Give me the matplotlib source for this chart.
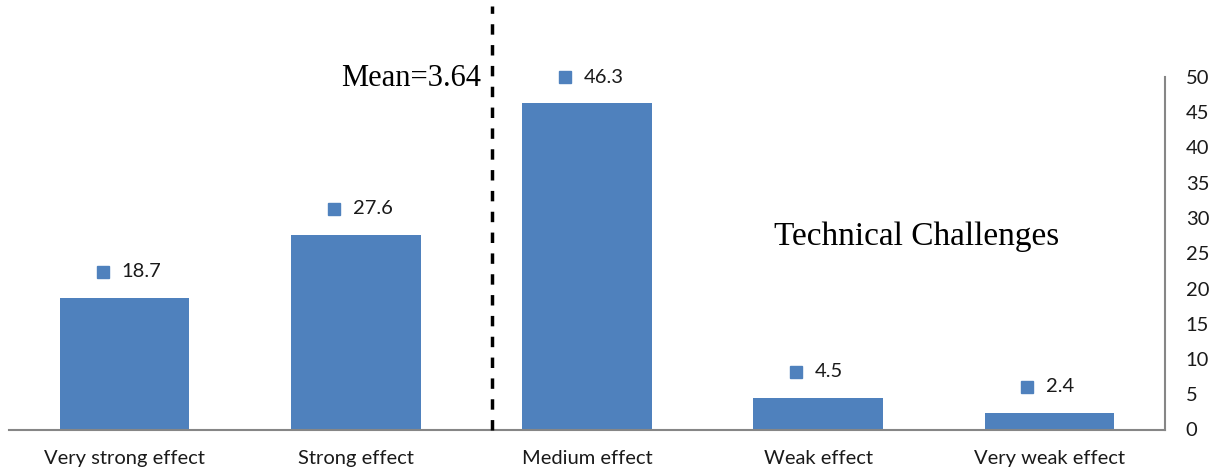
import matplotlib
matplotlib.use("Agg")
import matplotlib.pyplot as plt
from matplotlib.transforms import offset_copy

categories = ["Very strong effect", "Strong effect", "Medium effect", "Weak effect", "Very weak effect"]
values = [18.7, 27.6, 46.3, 4.5, 2.4]
yticks = [0, 5, 10, 15, 20, 25, 30, 35, 40, 45, 50]
mean_label = "Mean=3.64"
mean_pos = 1.59
title_text = "Technical Challenges"

bar_color = "#4F81BD"
axis_color = "#868686"
sans = ["Lato", "DejaVu Sans"]
serif = ["Liberation Serif", "DejaVu Serif"]

W, H = 1217, 473
fig = plt.figure(figsize=(W / 100, H / 100), dpi=100)
ax = fig.add_axes([9 / W, 1 - 429.5 / H, (1165 - 9) / W, (429.5 - 6) / H])

x = list(range(len(categories)))
ax.bar(x, values, width=0.56, color=bar_color, zorder=2)

ymax = 423.5 / 7.05
ax.set_xlim(-0.5, len(categories) - 0.5)
ax.set_ylim(0, ymax)

ax.set_xticks(x)
ax.set_xticklabels(categories, fontsize=14.5, family=sans, color="#1a1a1a")
ax.set_yticks(yticks)
ax.set_yticklabels([str(t) for t in yticks], fontsize=14.5, family=sans, color="#1a1a1a")
ax.yaxis.tick_right()
ax.tick_params(axis="both", length=0)
ax.tick_params(axis="x", pad=15)
ax.tick_params(axis="y", pad=15)

for s in ["top", "left"]:
    ax.spines[s].set_visible(False)
ax.spines["bottom"].set_color(axis_color)
ax.spines["right"].set_color(axis_color)
ax.spines["bottom"].set_linewidth(1.5)
ax.spines["right"].set_linewidth(1.5)
ax.spines["right"].set_bounds(0, 50)

# value labels: small square key followed by the number
mk_tr = offset_copy(ax.transData, fig=fig, x=-22, y=26, units="dots")
tx_tr = offset_copy(ax.transData, fig=fig, x=-3, y=26, units="dots")
for xi, v in zip(x, values):
    ax.plot([xi], [v], marker="s", markersize=8, color=bar_color,
            transform=mk_tr, clip_on=False, zorder=3)
    ax.text(xi, v, f"{v}", transform=tx_tr, fontsize=14.5, family=sans,
            ha="left", va="center", color="#1a1a1a")

# mean marker
ax.plot([mean_pos, mean_pos], [0, ymax], color="black", lw=2.5,
        linestyle=(0, (3, 3)), zorder=3, clip_on=False)
ax.text(mean_pos - 0.05, 48.7, mean_label, fontsize=22, family=serif,
        ha="right", va="baseline", color="black")

ax.text(2.807, 26.2, title_text, fontsize=24, family=serif,
        ha="left", va="baseline", color="black")

fig.savefig("out.png", dpi=100, facecolor="white")
